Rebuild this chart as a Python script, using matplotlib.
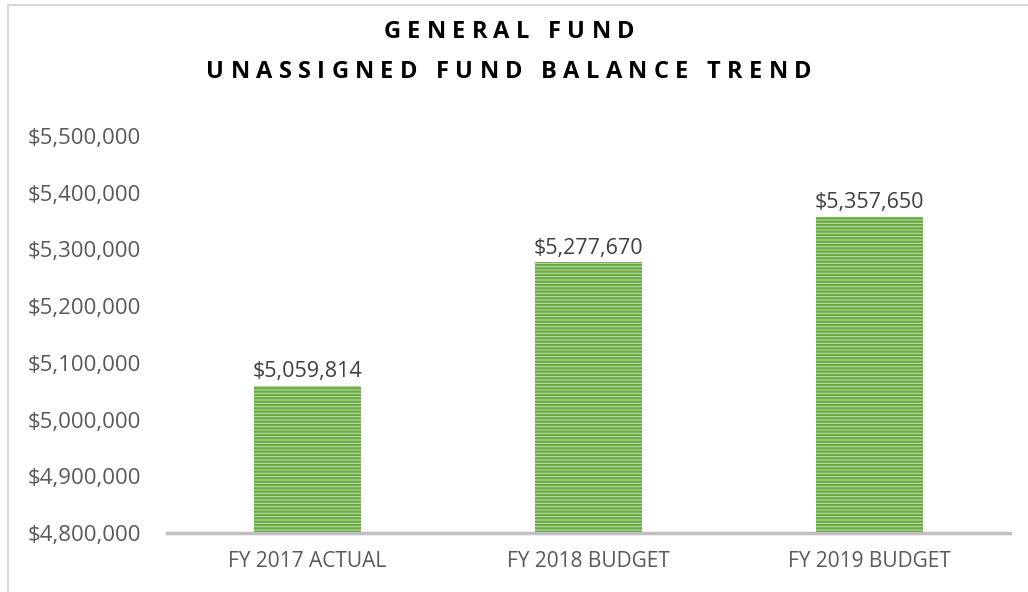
import matplotlib
matplotlib.use("Agg")
import matplotlib.pyplot as plt
from matplotlib.patches import Rectangle
from matplotlib.ticker import FuncFormatter

# данные
categories = ["FY 2017 ACTUAL", "FY 2018 BUDGET", "FY 2019 BUDGET"]
values = [5059814, 5277670, 5357650]
yticks = [4800000, 4900000, 5000000, 5100000, 5200000, 5300000, 5400000, 5500000]
title_lines = ["GENERAL FUND", "UNASSIGNED FUND BALANCE TREND"]

plt.rcParams['font.family'] = ['Open Sans', 'DejaVu Sans']
plt.rcParams['hatch.linewidth'] = 1.7

W, H = 1028, 592
fig = plt.figure(figsize=(W / 100, H / 100), dpi=100)
ax = fig.add_axes([0.1625, 0.0997, 0.82, 0.6706])

# рамка вокруг всей диаграммы
fig.patches.append(Rectangle((0.008, -0.01), 1.0, 1.002, transform=fig.transFigure,
                             fill=False, edgecolor='#d9d9d9', linewidth=1.5))

x = range(len(categories))
ax.bar(x, values, width=0.38, color='#c5e0b4', edgecolor='#6aaa42',
       hatch='-----', linewidth=0, zorder=2)

for xi, v in zip(x, values):
    ax.text(xi, v + 6000, f"${v:,.0f}", ha='center', va='bottom',
            fontsize=15.5, color='#404040')

ax.set_xlim(-0.5, 2.5)
ax.set_ylim(4800000, 5500000)
ax.set_yticks(yticks)
ax.yaxis.set_major_formatter(FuncFormatter(lambda v, p: f"${v:,.0f}"))
ax.set_xticks(list(x))
ax.set_xticklabels(categories)
ax.tick_params(axis='y', length=0, pad=19, labelsize=16, labelcolor='#595959')
ax.tick_params(axis='x', length=0, pad=13, labelsize=15, labelcolor='#595959')

for s in ['top', 'right', 'left']:
    ax.spines[s].set_visible(False)
ax.spines['bottom'].set_color('#bfbfbf')
ax.spines['bottom'].set_linewidth(2.5)
ax.spines['bottom'].set_zorder(3)


# заголовок с разрядкой букв
renderer = fig.canvas.get_renderer()


def text_width(s, size):
    t = fig.text(0, 0, s, fontsize=size, fontweight='bold')
    w = t.get_window_extent(renderer).width
    t.remove()
    return w


def spaced_title(s, y, size, tracking):
    base = text_width("ii", size)
    widths = [text_width("i" + ch + "i", size) - base for ch in s]
    total = sum(widths) + tracking * (len(s) - 1)
    xpos = (W - total) / 2 - 5
    for ch, w in zip(s, widths):
        fig.text(xpos / W, y, ch, ha='left', va='center', fontsize=size,
                 fontweight='bold', color='black')
        xpos += w + tracking


spaced_title(title_lines[0], 0.946, 17, 6.3)
spaced_title(title_lines[1], 0.878, 17, 6.3)

plt.savefig("out.png", dpi=100)
plt.close()
